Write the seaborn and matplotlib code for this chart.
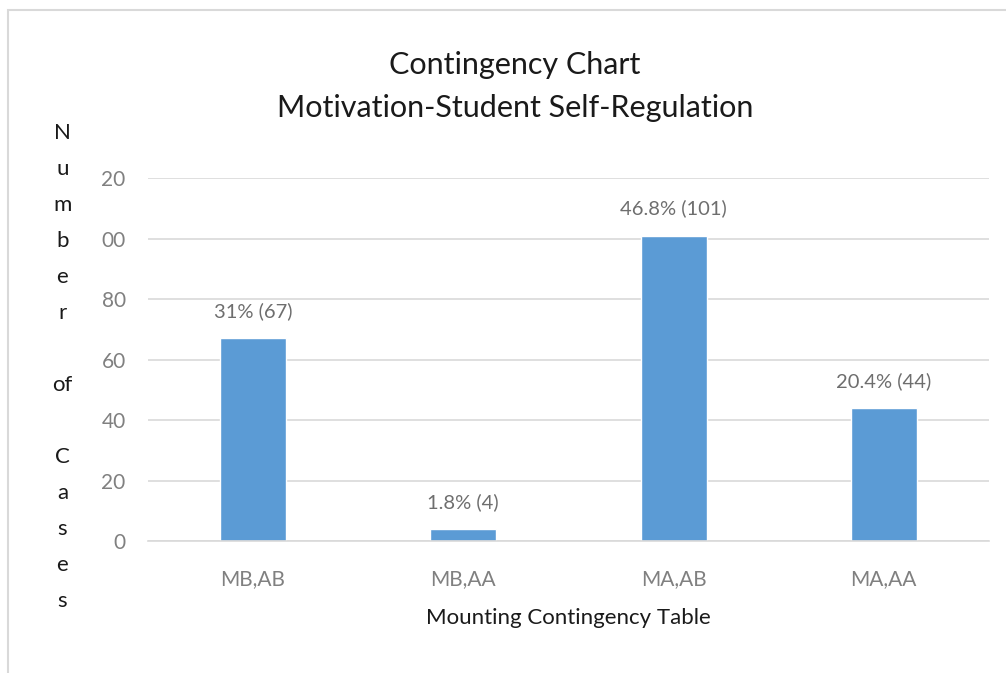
import matplotlib.pyplot as plt
import seaborn as sns
import pandas as pd
from matplotlib.patches import Rectangle

# datos
categories = ['MB,AB', 'MB,AA', 'MA,AB', 'MA,AA']
cases = [67, 4, 101, 44]
bar_labels = ['31% (67)', '1.8% (4)', '46.8% (101)', '20.4% (44)']
y_ticks = [0, 20, 40, 60, 80, 100, 120]
y_tick_labels = ['0', '20', '40', '60', '80', '00', '20']  # recortados como en el original

df = pd.DataFrame({'Group': categories, 'Cases': cases})

sns.set_theme(style="white")
plt.rcParams['font.family'] = ['Lato', 'DejaVu Sans']

fig = plt.figure(figsize=(10.06, 6.73), dpi=100)
ax = fig.add_axes([0.147, 0.196, 0.836, 0.5394])

sns.barplot(data=df, x='Group', y='Cases', color='#5B9BD5', width=0.314,
            saturation=1, ax=ax)

ax.set_ylim(0, 120)
ax.set_yticks(y_ticks)
ax.set_yticklabels(y_tick_labels)
ax.grid(axis='y', color='#D9D9D9', linewidth=1.2)
ax.set_axisbelow(True)
for side in ['top', 'right', 'left']:
    ax.spines[side].set_visible(False)
ax.spines['bottom'].set_color('#D9D9D9')
ax.spines['bottom'].set_linewidth(1.2)
ax.tick_params(axis='both', length=0, colors='#808080', labelsize=15)
ax.tick_params(axis='x', pad=20)
ax.tick_params(axis='y', pad=16)

for bar, txt in zip(ax.patches, bar_labels):
    ax.annotate(txt, (bar.get_x() + bar.get_width() / 2, bar.get_height()),
                xytext=(0, 13), textcoords='offset points', ha='center',
                va='bottom', fontsize=14.5, color='#6E6E6E')

ax.set_xlabel('Mounting Contingency Table', fontsize=16, color='#1a1a1a', labelpad=14)
ax.set_ylabel('')

# titulo en dos lineas
fig.text(0.512, 0.903, 'Contingency Chart', ha='center', va='center',
         fontsize=22, color='#1a1a1a')
fig.text(0.512, 0.840, 'Motivation-Student Self-Regulation', ha='center',
         va='center', fontsize=22, color='#1a1a1a')

# etiqueta del eje Y con letras apiladas
ylabel = 'N\nu\nm\nb\ne\nr\n\nof\n\nC\na\ns\ne\ns'
fig.text(0.062, 0.455, ylabel, ha='center', va='center', fontsize=16,
         color='#1a1a1a', linespacing=2.0)

# borde del area del grafico
fig.patches.append(Rectangle((8 / 1006, -0.01), 1.02, 1 - 10 / 673 + 0.01,
                             transform=fig.transFigure, fill=False,
                             edgecolor='#D9D9D9', linewidth=1.5))

fig.savefig('out.png', dpi=100)
